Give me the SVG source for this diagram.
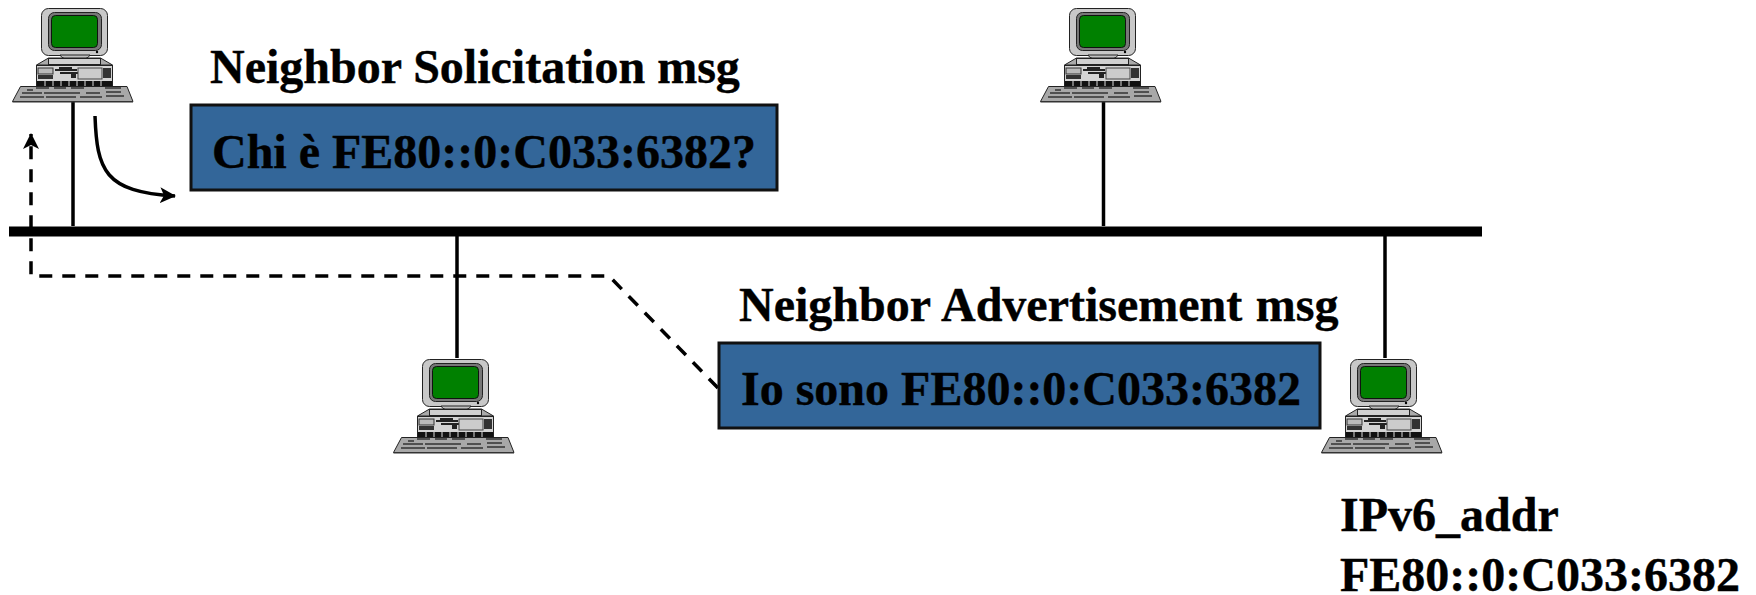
<svg xmlns="http://www.w3.org/2000/svg" width="1756" height="595" viewBox="0 0 1756 595">
<style>
text{font-family:"Liberation Serif","Times New Roman",serif;font-weight:bold;font-size:48px;fill:#000;stroke:#000;stroke-width:.4}
.box{fill:#336699;stroke:#111;stroke-width:3}
.ln{fill:none;stroke:#000;stroke-width:3.500}
.ds{fill:none;stroke:#000;stroke-width:3.500;stroke-dasharray:13 10}
</style>
<defs>
<marker id="arr" markerWidth="16" markerHeight="16" refX="15" refY="8" orient="auto" markerUnits="userSpaceOnUse"><path d="M0 0L16 8L0 16L4 8Z" fill="#000"/></marker>
<g id="pc" stroke-width="1">
<rect x="41.500" y="8.500" width="66" height="47" rx="7" fill="#c8c8c8" stroke="#222"/>
<rect x="48.500" y="12.500" width="53" height="38" rx="6" fill="#777" stroke="#222"/>
<rect x="51.500" y="15.500" width="46" height="32" rx="4" fill="#008000" stroke="#111"/>
<circle cx="97" cy="52" r="1.200" fill="#000"/>
<path d="M60 55Q62 60 75 60Q88 60 90 55Z" fill="#c0c0c0" stroke="#222"/>
<path d="M36.500 65L48.500 58H100.500L112.500 65Z" fill="#aaa" stroke="#222"/>
<rect x="48.500" y="58.500" width="52" height="6" fill="#d0d0d0" stroke="#222"/>
<rect x="36.500" y="65.500" width="76" height="21" fill="#d4d4d4" stroke="#222"/>
<rect x="38" y="68" width="15" height="6" fill="#bbb" stroke="#333"/>
<rect x="38" y="75" width="15" height="4" fill="#333"/>
<path d="M55 70H77M59 68H72M60 73H78" stroke="#222" stroke-width="2"/>
<rect x="71" y="74" width="5" height="4" fill="#222"/>
<rect x="78" y="68" width="24" height="11" fill="#ccc" stroke="#444"/>
<rect x="103" y="68" width="8" height="10" fill="#333"/>
<rect x="37" y="81" width="75" height="5" fill="#111"/>
<path d="M45 81v5M53 81v5M61 81v5M69 81v5M77 81v5M85 81v5M93 81v5M101 81v5" stroke="#ddd"/>
<path d="M20.500 86.500H127L133 101.500H12.500Z" fill="#a8a8a8" stroke="#222"/>
<path d="M36 88H49M54 88H66M71 88H84M105 88H121M27 90H33M106 92H121M22 93H42M44 93H80M86 93H100M20 97H44M46 97H76M80 97H102M106 96H124" stroke="#333" stroke-width="1.500"/>
<rect x="12.500" y="101" width="120.500" height="1.500" fill="#333"/>
</g>
</defs>
<g id="connectors">
<rect x="9" y="226.500" width="1473" height="10" fill="#000"/>
<path class="ln" d="M73 102V226"/>
<path class="ln" d="M457 236V358"/>
<path class="ln" d="M1103.500 102V226"/>
<path class="ln" d="M1385 236V358"/>
<path d="M95 116C97 170 104 192 175 196" fill="none" stroke="#000" stroke-width="3.500" marker-end="url(#arr)"/>
<path class="ds" d="M718 388L609 276H31V134" marker-end="url(#arr)"/>
</g>
<g id="pc1"><use href="#pc"/></g>
<g id="pc2"><use href="#pc" x="1028"/></g>
<g id="pc3"><use href="#pc" x="381" y="351"/></g>
<g id="pc4"><use href="#pc" x="1309" y="351"/></g>
<g id="ns">
<text x="210" y="83">Neighbor Solicitation msg</text>
<rect class="box" x="191" y="105" width="586" height="85"/>
<text x="212" y="167.500">Chi è FE80::0:C033:6382?</text>
</g>
<g id="na">
<text x="739" y="321" word-spacing="1.500">Neighbor Advertisement msg</text>
<rect class="box" x="719" y="343" width="601" height="85"/>
<text x="741" y="405">Io sono FE80::0:C033:6382</text>
</g>
<g id="addr">
<text x="1340" y="530.500">IPv6_addr</text>
<text x="1340" y="591">FE80::0:C033:6382</text>
</g>
</svg>
